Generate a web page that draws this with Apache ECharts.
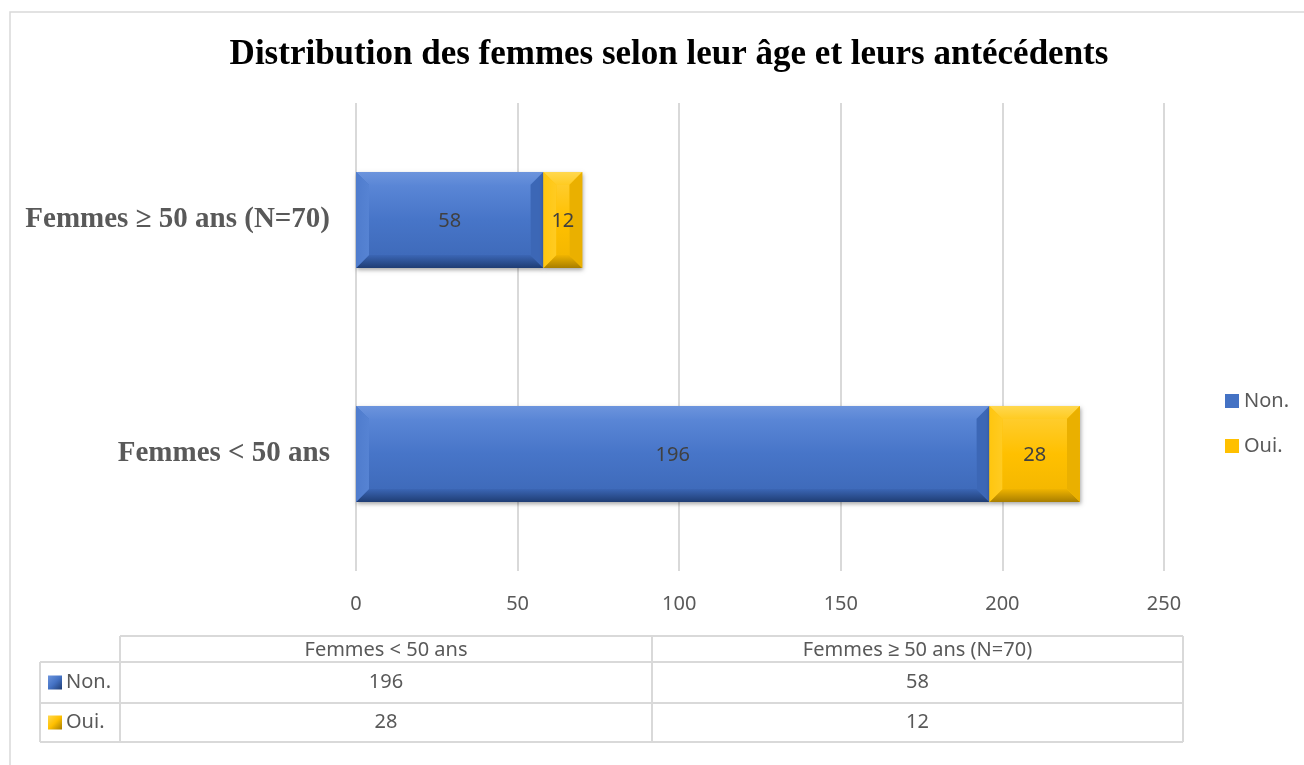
<!DOCTYPE html>
<html>
<head>
<meta charset="utf-8">
<script src="https://cdn.jsdelivr.net/npm/echarts@6/dist/echarts.min.js"></script>
<style>
html,body{margin:0;padding:0;background:#fff;}
#main{width:1304px;height:765px;}
</style>
</head>
<body>
<div id="main"></div>
<script>
// données
var categories = ['Femmes < 50 ans', 'Femmes \u2265 50 ans (N=70)'];
var seriesNames = ['Non.', 'Oui.'];
var nonValues = [196, 58];
var ouiValues = [28, 12];
var xTicks = [0, 50, 100, 150, 200, 250];

var sansFont = '"Noto Sans", sans-serif';
var serifFont = '"Liberation Serif", serif';

// couleurs du biseau (dégradés)
var palettes = [
	{face: ['#5a86d6', '#4775c8', '#3f6bbb'], top: ['#6c94dd', '#5b87d6'], bottom: ['#3b66b5', '#1f3d74'],
		left: ['#4f7ccd', '#5683d3'], right: ['#3c67b6', '#23437c'], main: '#4472c4'},
	{face: ['#ffcc2b', '#ffc000', '#f5b800'], top: ['#ffd84f', '#ffcb22'], bottom: ['#f0b400', '#a87e00'],
		left: ['#ffc60f', '#ffcb22'], right: ['#eab000', '#9c7600'], main: '#ffc000'}
];

// données empilées [catégorie, début, fin, valeur]
function stackData(vals, base) {
	return vals.map(function (v, i) {
		var s = base ? base[i] : 0;
		return [i, s, s + v, v];
	});
}

function grad(x, y, c) {
	return new echarts.graphic.LinearGradient(0, 0, x, y, [{offset: 0, color: c[0]}, {offset: 1, color: c[1]}]);
}

function renderBevel(params, api) {
	var pal = palettes[params.seriesIndex];
	var cat = api.value(0);
	var a = api.coord([api.value(1), cat]);
	var b = api.coord([api.value(2), cat]);
	var h = api.size([0, 1])[1] * 0.41;
	var x0 = a[0], x1 = b[0], y0 = a[1] - h / 2, y1 = a[1] + h / 2;
	var d = Math.min(13, (x1 - x0) / 3, h / 3);
	return {
		type: 'group',
		children: [
			{type: 'rect', shape: {x: x0, y: y0, width: x1 - x0, height: h},
				style: {fill: pal.main, shadowColor: 'rgba(0,0,0,0.35)', shadowBlur: 4, shadowOffsetX: 1, shadowOffsetY: 2}},
			{type: 'polygon', shape: {points: [[x0, y0], [x1, y0], [x1 - d, y0 + d], [x0 + d, y0 + d]]}, style: {fill: grad(0, 1, pal.top)}},
			{type: 'polygon', shape: {points: [[x0, y1], [x1, y1], [x1 - d, y1 - d], [x0 + d, y1 - d]]}, style: {fill: grad(0, 1, pal.bottom)}},
			{type: 'polygon', shape: {points: [[x0, y0], [x0 + d, y0 + d], [x0 + d, y1 - d], [x0, y1]]}, style: {fill: grad(1, 0, pal.left)}},
			{type: 'polygon', shape: {points: [[x1, y0], [x1 - d, y0 + d], [x1 - d, y1 - d], [x1, y1]]}, style: {fill: grad(-1, 0, pal.right)}},
			{type: 'rect', shape: {x: x0 + d, y: y0 + d, width: x1 - x0 - 2 * d, height: h - 2 * d},
				style: {fill: new echarts.graphic.LinearGradient(0, 0, 0, 1, [
					{offset: 0, color: pal.face[0]}, {offset: 0.5, color: pal.face[1]}, {offset: 1, color: pal.face[2]}])}},
			{type: 'text', style: {text: String(api.value(3)), x: (x0 + x1) / 2, y: a[1] + 1,
				align: 'center', verticalAlign: 'middle', fill: '#404040', fontSize: 20, fontFamily: sansFont}}
		]
	};
}

// tableau de données sous le graphique
function iconRect(x, y, pal) {
	return {type: 'rect', shape: {x: x, y: y, width: 14, height: 14},
		style: {fill: new echarts.graphic.LinearGradient(0, 0, 1, 1, [
			{offset: 0, color: pal.top[0]}, {offset: 0.5, color: pal.main}, {offset: 1, color: pal.bottom[1]}])}};
}

function buildTable() {
	var g = [];
	var lc = '#d9d9d9';
	var colX = [120, 652, 1183];
	var rowY = [636, 662, 703, 742];
	var labelX = 40;
	var vals = [nonValues, ouiValues];
	var line = function (x1, y1, x2, y2) {
		g.push({type: 'line', shape: {x1: x1, y1: y1, x2: x2, y2: y2}, style: {stroke: lc, lineWidth: 2}});
	};
	line(colX[0], rowY[0], colX[2], rowY[0]);
	line(labelX, rowY[1], colX[2], rowY[1]);
	line(labelX, rowY[2], colX[2], rowY[2]);
	line(labelX, rowY[3], colX[2], rowY[3]);
	line(labelX, rowY[1], labelX, rowY[3]);
	colX.forEach(function (x) { line(x, rowY[0], x, rowY[3]); });
	categories.forEach(function (c, i) {
		g.push({type: 'text', style: {text: c, x: (colX[i] + colX[i + 1]) / 2, y: (rowY[0] + rowY[1]) / 2 + 1,
			align: 'center', verticalAlign: 'middle', fill: '#595959', fontSize: 20, fontFamily: sansFont}});
	});
	seriesNames.forEach(function (n, r) {
		var cy = (rowY[r + 1] + rowY[r + 2]) / 2;
		g.push(iconRect(48, cy - 7, palettes[r]));
		g.push({type: 'text', style: {text: n, x: 66, y: cy, verticalAlign: 'middle', fill: '#595959', fontSize: 20, fontFamily: sansFont}});
		vals[r].forEach(function (v, i) {
			g.push({type: 'text', style: {text: String(v), x: (colX[i] + colX[i + 1]) / 2, y: cy,
				align: 'center', verticalAlign: 'middle', fill: '#595959', fontSize: 20, fontFamily: sansFont}});
		});
	});
	// cadre du graphique
	g.push({type: 'rect', shape: {x: 10, y: 12, width: 1320, height: 780}, style: {fill: 'none', stroke: lc, lineWidth: 1.5}, z: -1});
	return g;
}

var chart = echarts.init(document.getElementById('main'));
var option = {
	backgroundColor: '#fff',
	animation: false,
	title: {
		text: 'Distribution des femmes selon leur \u00e2ge et leurs ant\u00e9c\u00e9dents',
		left: 664, top: 32, textAlign: 'center',
		textStyle: {fontFamily: serifFont, fontWeight: 'bold', fontSize: 35, color: '#000'}
	},
	legend: {
		data: seriesNames,
		orient: 'vertical',
		left: 1225, top: 391, padding: 0,
		itemWidth: 14, itemHeight: 14, itemGap: 25,
		icon: 'rect',
		textStyle: {fontFamily: sansFont, fontSize: 20, color: '#595959', padding: [0, 0, 0, 0]}
	},
	grid: {left: 356, right: 140, top: 103, bottom: 194},
	xAxis: {
		type: 'value', min: 0, max: 250, interval: 50,
		axisLine: {show: false}, axisTick: {show: false},
		axisLabel: {fontFamily: sansFont, fontSize: 20, color: '#595959', margin: 23,
			formatter: function (v) { return xTicks.indexOf(v) >= 0 ? String(v) : ''; }},
		splitLine: {lineStyle: {color: '#d9d9d9', width: 2}}
	},
	yAxis: {
		type: 'category', data: categories,
		axisLine: {show: false}, axisTick: {show: false},
		axisLabel: {fontFamily: serifFont, fontWeight: 'bold', fontSize: 29, color: '#595959', margin: 26}
	},
	series: [
		{name: seriesNames[0], type: 'custom', renderItem: renderBevel, itemStyle: {color: palettes[0].main},
			encode: {x: [1, 2], y: 0}, data: stackData(nonValues)},
		{name: seriesNames[1], type: 'custom', renderItem: renderBevel, itemStyle: {color: palettes[1].main},
			encode: {x: [1, 2], y: 0}, data: stackData(ouiValues, nonValues)}
	],
	graphic: buildTable()
};
chart.setOption(option);
</script>
</body>
</html>
